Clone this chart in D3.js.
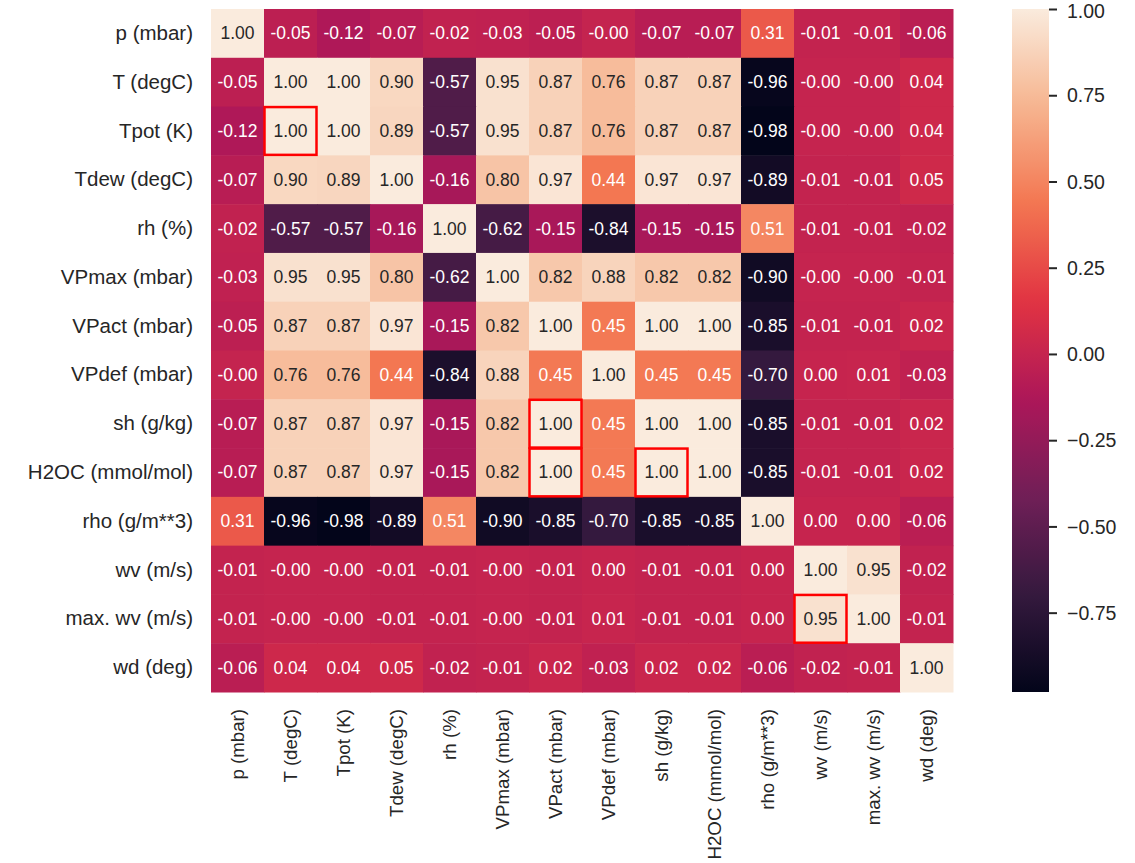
<!DOCTYPE html>
<html>
<head>
<meta charset="utf-8">
<script src="https://cdn.jsdelivr.net/npm/d3@7"></script>
<style>
  html, body { margin: 0; padding: 0; background: #ffffff; }
  svg { display: block; font-family: "Liberation Sans", Arial, sans-serif; }
</style>
</head>
<body>
<svg id="chart" width="1135" height="863"></svg>
<script>
// ---- data ----
const labels = ["p (mbar)", "T (degC)", "Tpot (K)", "Tdew (degC)", "rh (%)", "VPmax (mbar)",
  "VPact (mbar)", "VPdef (mbar)", "sh (g/kg)", "H2OC (mmol/mol)", "rho (g/m**3)",
  "wv (m/s)", "max. wv (m/s)", "wd (deg)"];

const rowP     = [1.00, -0.05, -0.12, -0.07, -0.02, -0.03, -0.05, -0.004, -0.07, -0.07, 0.31, -0.01, -0.01, -0.06];
const rowT     = [-0.05, 1.00, 1.00, 0.90, -0.57, 0.95, 0.87, 0.76, 0.87, 0.87, -0.96, -0.003, -0.003, 0.04];
const rowTpot  = [-0.12, 1.00, 1.00, 0.89, -0.57, 0.95, 0.87, 0.76, 0.87, 0.87, -0.98, -0.003, -0.003, 0.04];
const rowTdew  = [-0.07, 0.90, 0.89, 1.00, -0.16, 0.80, 0.97, 0.44, 0.97, 0.97, -0.89, -0.01, -0.01, 0.05];
const rowRh    = [-0.02, -0.57, -0.57, -0.16, 1.00, -0.62, -0.15, -0.84, -0.15, -0.15, 0.51, -0.01, -0.01, -0.02];
const rowVPmax = [-0.03, 0.95, 0.95, 0.80, -0.62, 1.00, 0.82, 0.88, 0.82, 0.82, -0.90, -0.003, -0.003, -0.01];
const rowVPact = [-0.05, 0.87, 0.87, 0.97, -0.15, 0.82, 1.00, 0.45, 1.00, 1.00, -0.85, -0.01, -0.01, 0.02];
const rowVPdef = [-0.004, 0.76, 0.76, 0.44, -0.84, 0.88, 0.45, 1.00, 0.45, 0.45, -0.70, 0.003, 0.01, -0.03];
const rowSh    = [-0.07, 0.87, 0.87, 0.97, -0.15, 0.82, 1.00, 0.45, 1.00, 1.00, -0.85, -0.01, -0.01, 0.02];
const rowH2OC  = [-0.07, 0.87, 0.87, 0.97, -0.15, 0.82, 1.00, 0.45, 1.00, 1.00, -0.85, -0.01, -0.01, 0.02];
const rowRho   = [0.31, -0.96, -0.98, -0.89, 0.51, -0.90, -0.85, -0.70, -0.85, -0.85, 1.00, 0.003, 0.003, -0.06];
const rowWv    = [-0.01, -0.003, -0.003, -0.01, -0.01, -0.003, -0.01, 0.003, -0.01, -0.01, 0.003, 1.00, 0.95, -0.02];
const rowMaxWv = [-0.01, -0.003, -0.003, -0.01, -0.01, -0.003, -0.01, 0.01, -0.01, -0.01, 0.003, 0.95, 1.00, -0.01];
const rowWd    = [-0.06, 0.04, 0.04, 0.05, -0.02, -0.01, 0.02, -0.03, 0.02, 0.02, -0.06, -0.02, -0.01, 1.00];

const matrix = [rowP, rowT, rowTpot, rowTdew, rowRh, rowVPmax, rowVPact, rowVPdef,
  rowSh, rowH2OC, rowRho, rowWv, rowMaxWv, rowWd];

const colorbarTicks = [-0.75, -0.50, -0.25, 0.00, 0.25, 0.50, 0.75, 1.00];

// highlighted cells: [row, column]
const highlights = [
  ["Tpot (K)", "T (degC)"],
  ["sh (g/kg)", "VPact (mbar)"],
  ["H2OC (mmol/mol)", "VPact (mbar)"],
  ["H2OC (mmol/mol)", "sh (g/kg)"],
  ["max. wv (m/s)", "wv (m/s)"]
];

// rocket colormap stops
const rocketStops = ["#03051a", "#35193e", "#701f57", "#ad1759", "#e13342", "#f37651", "#f6b48f", "#faebdd"];
const rocketPos = [0, 1/7, 2/7, 3/7, 4/7, 5/7, 6/7, 1];

// ---- drawing ----
const svg = d3.select("#chart");
const vmin = d3.min(matrix.flat()), vmax = d3.max(matrix.flat());

const rocket = d3.scaleLinear().domain(rocketPos).range(rocketStops).interpolate(d3.interpolateRgb).clamp(true);
const norm = d3.scaleLinear().domain([vmin, vmax]).range([0, 1]).clamp(true);
const color = v => rocket(norm(v));

const x = d3.scaleBand().domain(labels).range([211, 953]);
const y = d3.scaleBand().domain(labels).range([9, 692]);

function lum(c) {
  const r = d3.rgb(c);
  const f = v => { v /= 255; return v <= 0.03928 ? v / 12.92 : Math.pow((v + 0.055) / 1.055, 2.4); };
  return 0.2126 * f(r.r) + 0.7152 * f(r.g) + 0.0722 * f(r.b);
}

const cells = [];
matrix.forEach((row, i) => row.forEach((v, j) => cells.push({ r: labels[i], c: labels[j], v })));

const g = svg.append("g");
g.selectAll("rect.cell").data(cells).join("rect")
  .attr("class", "cell")
  .attr("x", d => x(d.c)).attr("y", d => y(d.r))
  .attr("width", x.bandwidth() + 0.5).attr("height", y.bandwidth() + 0.5)
  .attr("fill", d => color(d.v));

g.selectAll("text.annot").data(cells).join("text")
  .attr("class", "annot")
  .attr("x", d => x(d.c) + x.bandwidth() / 2)
  .attr("y", d => y(d.r) + y.bandwidth() / 2)
  .attr("text-anchor", "middle")
  .attr("dominant-baseline", "central")
  .attr("font-size", "17.5px")
  .attr("fill", d => lum(color(d.v)) > 0.408 ? "#262626" : "#ffffff")
  .text(d => d.v.toFixed(2));

// highlight boxes
g.selectAll("rect.hl").data(highlights).join("rect")
  .attr("class", "hl")
  .attr("x", d => x(d[1]) + 0.5).attr("y", d => y(d[0]) + 0.5)
  .attr("width", x.bandwidth() - 1).attr("height", y.bandwidth() - 1)
  .attr("fill", "none").attr("stroke", "#ff0000").attr("stroke-width", 2.5);

// y axis labels
const yAxis = d3.axisLeft(y).tickSize(0).tickPadding(18);
const yg = svg.append("g").attr("transform", "translate(211,0)").call(yAxis);
yg.select(".domain").remove();
yg.selectAll("text").attr("font-size", "20.5px").attr("fill", "#262626")
  .attr("font-family", "Liberation Sans, Arial, sans-serif");

// x axis labels (rotated)
const xAxis = d3.axisBottom(x).tickSize(0).tickPadding(0);
const xg = svg.append("g").attr("transform", "translate(0,692)").call(xAxis);
xg.select(".domain").remove();
xg.selectAll("text")
  .attr("font-size", "18.7px").attr("fill", "#262626")
  .attr("font-family", "Liberation Sans, Arial, sans-serif")
  .attr("text-anchor", "end")
  .attr("dy", null)
  .attr("dominant-baseline", "central")
  .attr("transform", "translate(0,17) rotate(-90)")
  .attr("x", 0).attr("y", 0);

// colorbar
const cbX = 1012, cbW = 37;
const cy = d3.scaleLinear().domain([vmin, vmax]).range([692, 9]);
const defs = svg.append("defs");
const grad = defs.append("linearGradient").attr("id", "cbgrad")
  .attr("x1", 0).attr("y1", 1).attr("x2", 0).attr("y2", 0);
grad.selectAll("stop").data(d3.range(0, 1.0001, 0.02)).join("stop")
  .attr("offset", d => d).attr("stop-color", d => rocket(d));
svg.append("rect").attr("x", cbX).attr("y", cy(vmax)).attr("width", cbW)
  .attr("height", cy(vmin) - cy(vmax)).attr("fill", "url(#cbgrad)");

const cbAxis = d3.axisRight(cy).tickValues(colorbarTicks).tickSize(8).tickPadding(10)
  .tickFormat(d3.format(".2f"));
const cg = svg.append("g").attr("transform", `translate(${cbX + cbW},0)`).call(cbAxis);
cg.select(".domain").remove();
cg.selectAll("line").attr("stroke", "#262626").attr("stroke-width", 2);
cg.selectAll("text").attr("font-size", "19.5px").attr("fill", "#262626")
  .attr("font-family", "Liberation Sans, Arial, sans-serif")
  .attr("dy", d => d === 1 ? "0.45em" : "0.34em");
</script>
</body>
</html>
